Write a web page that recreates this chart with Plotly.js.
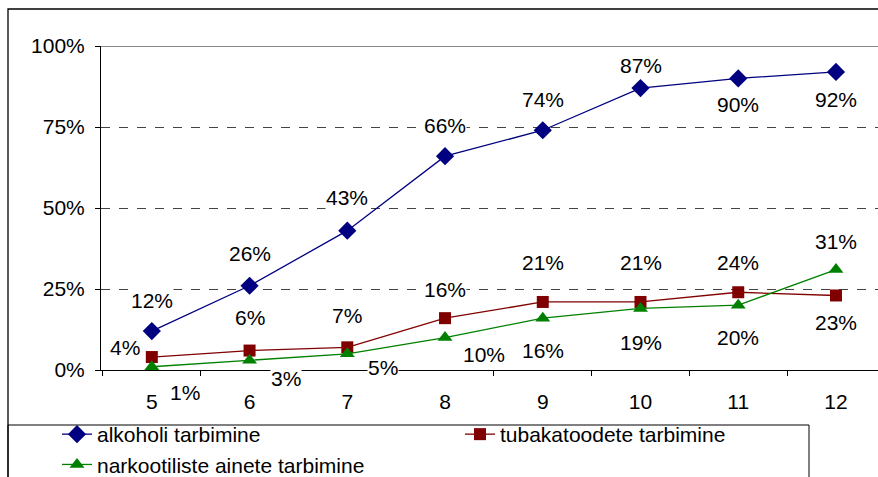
<!DOCTYPE html>
<html>
<head>
<meta charset="utf-8">
<script src="https://cdn.plot.ly/plotly-3.0.1.min.js"></script>
<style>html,body{margin:0;padding:0;background:#fff;}#chart{width:878px;height:477px;}</style>
</head>
<body>
<div id="chart"></div>
<script>
const categories = ["5", "6", "7", "8", "9", "10", "11", "12"];
const seriesNames = ["alkoholi tarbimine", "tubakatoodete tarbimine", "narkootiliste ainete tarbimine"];
const alkoholi = [12, 26, 43, 66, 74, 87, 90, 92];
const tubakatooted = [4, 6, 7, 16, 21, 21, 24, 23];
const narkootilised = [1, 3, 5, 10, 16, 19, 20, 31];
const yTickVals = [0, 25, 50, 75, 100];
const yTickText = ["0%", "25%", "50%", "75%", "100%"];

// label offsets in px (style only)
const alkOff = [[0,31],[0,32],[0,33],[0,31],[0,31],[0,23],[0,-26],[0,-28]];
const tubOff = [[-27,10],[0,33],[0,32],[0,29],[0,39],[0,39],[0,30],[0,-27]];
const narOff = [[33,-26],[36,-18],[36,-14],[39,-17],[0,-32],[0,-34],[0,-32],[0,28]];

const FONT = "Liberation Sans, Arial, sans-serif";
const FS = 21;
const colors = ["#000080", "#800000", "#008000"];
const symbols = ["diamond", "square", "triangle-up"];
const sizes = [14, 12, 13];
const data = [alkoholi, tubakatooted, narkootilised];
const offs = [alkOff, tubOff, narOff];

const traces = data.map((vals, i) => ({
  type: "scatter", mode: "lines+markers", name: seriesNames[i],
  x: categories, y: vals,
  line: {color: colors[i], width: 1.3},
  marker: {color: colors[i], symbol: symbols[i], size: sizes[i]},
  cliponaxis: false
}));

const annotations = [];
data.forEach((vals, i) => {
  vals.forEach((v, j) => {
    annotations.push({
      x: j, y: v, xref: "x", yref: "y",
      text: v + "%", showarrow: false,
      xshift: offs[i][j][0], yshift: offs[i][j][1],
      bgcolor: "#ffffff", borderpad: 0,
      font: {family: FONT, size: FS, color: "#000"}
    });
  });
});

const pw = 777, ph = 324;
function px(x) { return (x - 101) / pw; }
function py(y) { return (370 - y) / ph; }

const layout = {
  width: 878, height: 477,
  margin: {l: 101, r: 0, t: 46, b: 107, autoexpand: false},
  paper_bgcolor: "#fff", plot_bgcolor: "#fff",
  font: {family: FONT, size: FS, color: "#000"},
  showlegend: true,
  xaxis: {
    type: "category", range: [-0.52, 7.43],
    tickson: "boundaries", ticks: "outside", ticklen: 5, tickcolor: "#000",
    showline: true, linecolor: "#000", linewidth: 1,
    showgrid: false, zeroline: false, ticklabelstandoff: 13,
    tickfont: {family: FONT, size: FS, color: "#000"}
  },
  yaxis: {
    range: [0, 100], tickvals: yTickVals, ticktext: yTickText,
    ticks: "outside", ticklen: 5, tickcolor: "#000",
    showline: true, linecolor: "#000", linewidth: 1,
    showgrid: true, gridcolor: "#444", griddash: "dash", gridwidth: 1,
    zeroline: false, ticklabelstandoff: 6,
    tickfont: {family: FONT, size: FS, color: "#000"}
  },
  legend: {
    orientation: "h", x: px(57), y: py(414), xanchor: "left", yanchor: "top",
    entrywidth: 358, entrywidthmode: "pixels", tracegroupgap: 0,
    bgcolor: "rgba(0,0,0,0)", borderwidth: 0,
    font: {family: FONT, size: 21, color: "#000"}
  },
  annotations: annotations,
  shapes: [
    {type: "line", xref: "paper", yref: "y", x0: 0, x1: 1, y0: 100, y1: 100,
     line: {color: "#8a8a8a", width: 2}, layer: "below"},
    {type: "rect", xref: "paper", yref: "paper", x0: px(8), x1: 1.1, y0: -0.5, y1: py(9),
     line: {color: "#000", width: 1.3}, fillcolor: "rgba(0,0,0,0)"},
    {type: "rect", xref: "paper", yref: "paper", x0: px(8), x1: px(809), y0: -0.5, y1: py(425),
     line: {color: "#000", width: 1}, fillcolor: "rgba(0,0,0,0)"}
  ]
};

Plotly.newPlot("chart", traces, layout, {displayModeBar: false, staticPlot: true});
</script>
</body>
</html>
